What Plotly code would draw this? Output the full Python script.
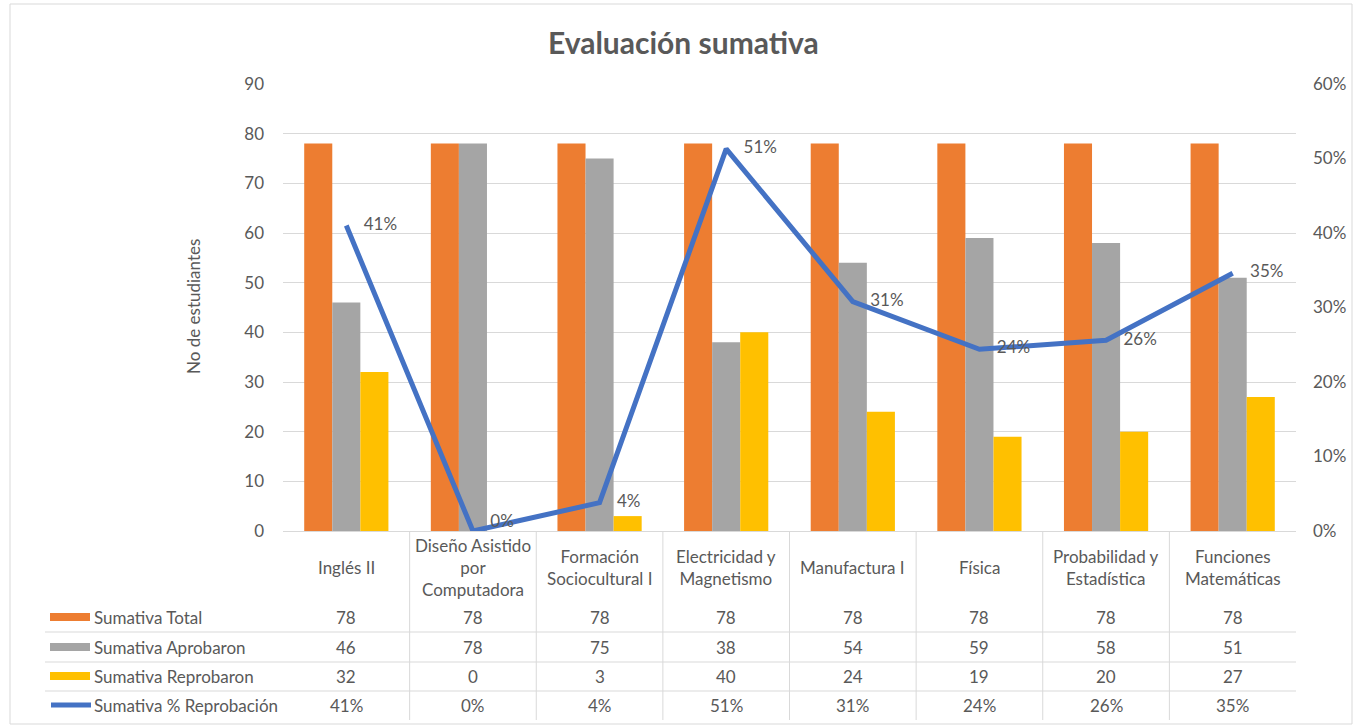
import plotly.graph_objects as go

# ---------------- data ----------------
categories = ["Inglés II", "Diseño Asistido por Computadora", "Formación Sociocultural I",
              "Electricidad y Magnetismo", "Manufactura I", "Física",
              "Probabilidad y Estadística", "Funciones Matemáticas"]
category_labels = ["Inglés II", "Diseño Asistido<br>por<br>Computadora", "Formación<br>Sociocultural I",
                   "Electricidad y<br>Magnetismo", "Manufactura I", "Física",
                   "Probabilidad y<br>Estadística", "Funciones<br>Matemáticas"]
sumativa_total = [78, 78, 78, 78, 78, 78, 78, 78]
sumativa_aprobaron = [46, 78, 75, 38, 54, 59, 58, 51]
sumativa_reprobaron = [32, 0, 3, 40, 24, 19, 20, 27]
pct_reprobacion = [0.41, 0.0, 0.038, 0.513, 0.308, 0.244, 0.256, 0.346]
pct_labels = ["41%", "0%", "4%", "51%", "31%", "24%", "26%", "35%"]
series_names = ["Sumativa Total", "Sumativa Aprobaron", "Sumativa Reprobaron", "Sumativa % Reprobación"]
left_ticks = [0, 10, 20, 30, 40, 50, 60, 70, 80, 90]
right_ticks = [0, 0.1, 0.2, 0.3, 0.4, 0.5, 0.6]

# ---------------- style ----------------
C_ORANGE = "#ED7D31"
C_GRAY = "#A5A5A5"
C_YELLOW = "#FFC000"
C_BLUE = "#4472C4"
TXT = "#595959"
GRID = "#D9D9D9"
FONT = "Lato, 'Open Sans', sans-serif"
FS = 17
FW, FH = 1359, 725
L, R, T, B = 283, 1296, 84, 531
PW, PH = R - L, B - T


def px_x(px):
    return (px - L) / PW


def px_y(py):
    return (B - py) / PH


fig = go.Figure()
for name, vals, col in zip(series_names[:3], [sumativa_total, sumativa_aprobaron, sumativa_reprobaron],
                           [C_ORANGE, C_GRAY, C_YELLOW]):
    fig.add_trace(go.Bar(x=categories, y=vals, name=name, marker=dict(color=col, line=dict(width=0)),
                         hoverinfo="y"))

label_pos = ["top right" if v == 0 else "middle right" for v in pct_reprobacion]
fig.add_trace(go.Scatter(x=categories, y=pct_reprobacion, name=series_names[3], yaxis="y2",
                         mode="lines+text", line=dict(color=C_BLUE, width=5),
                         text=["    " + t for t in pct_labels], textposition=label_pos,
                         textfont=dict(size=FS, color=TXT, family=FONT), cliponaxis=False))

annotations = []
shapes = []

# category labels row
for i, lab in enumerate(category_labels):
    annotations.append(dict(x=i, y=px_y(567), xref="x", yref="paper", text=lab, showarrow=False,
                            xanchor="center", yanchor="middle",
                            font=dict(size=FS, color=TXT, family=FONT)))

# table rows
row_y = [617, 647, 676, 705]
row_vals = [[str(v) for v in sumativa_total], [str(v) for v in sumativa_aprobaron],
            [str(v) for v in sumativa_reprobaron], pct_labels]
for ry, vals, name in zip(row_y, row_vals, series_names):
    for i, v in enumerate(vals):
        annotations.append(dict(x=i, y=px_y(ry), xref="x", yref="paper", text=v, showarrow=False,
                                xanchor="center", yanchor="middle",
                                font=dict(size=FS, color=TXT, family=FONT)))
    annotations.append(dict(x=px_x(92), y=px_y(ry), xref="paper", yref="paper", text=name,
                            showarrow=False, xanchor="left", yanchor="middle",
                            font=dict(size=FS, color=TXT, family=FONT)))

# legend keys
for ry, col in zip(row_y[:3], [C_ORANGE, C_GRAY, C_YELLOW]):
    shapes.append(dict(type="rect", xref="paper", yref="paper", x0=px_x(50), x1=px_x(90),
                       y0=px_y(ry - 4), y1=px_y(ry + 4), fillcolor=col, line=dict(width=0)))
shapes.append(dict(type="line", xref="paper", yref="paper", x0=px_x(51), x1=px_x(91),
                   y0=px_y(row_y[3]), y1=px_y(row_y[3]), line=dict(color=C_BLUE, width=5)))

# horizontal table lines
for hy in [632, 662, 691]:
    shapes.append(dict(type="line", xref="paper", yref="paper", x0=px_x(45), x1=1,
                       y0=px_y(hy), y1=px_y(hy), line=dict(color=GRID, width=1)))
# vertical separators
for i in range(len(categories) - 1):
    shapes.append(dict(type="line", xref="x", yref="paper", x0=i + 0.5, x1=i + 0.5,
                       y0=0, y1=px_y(720), line=dict(color=GRID, width=1)))
# chart border
shapes.append(dict(type="rect", xref="paper", yref="paper", x0=px_x(10), x1=px_x(1352),
                   y0=px_y(4), y1=px_y(724), line=dict(color=GRID, width=1), layer="below"))

# y-axis title
annotations.append(dict(x=px_x(193), y=px_y(307), xref="paper", yref="paper", text="No de estudiantes",
                        textangle=-90, showarrow=False, xanchor="center", yanchor="middle",
                        font=dict(size=FS, color=TXT, family=FONT)))
# chart title
annotations.append(dict(x=px_x(683), y=px_y(42), xref="paper", yref="paper", text="<b>Evaluación sumativa</b>",
                        showarrow=False, xanchor="center", yanchor="middle",
                        font=dict(size=30, color=TXT, family=FONT)))

fig.update_layout(
    width=FW, height=FH,
    margin=dict(l=L, r=FW - R, t=T, b=FH - B, pad=0),
    paper_bgcolor="white", plot_bgcolor="white",
    barmode="group", bargap=0.335, bargroupgap=0,
    showlegend=False,
    font=dict(family=FONT, color=TXT, size=FS),
    xaxis=dict(showticklabels=False, showgrid=False, showline=True, linecolor=GRID, linewidth=1,
               ticks="", zeroline=False),
    yaxis=dict(range=[0, 90], tickvals=left_ticks, showgrid=True, gridcolor=GRID, gridwidth=1,
               zeroline=False, ticks="", ticklabelstandoff=18,
               tickfont=dict(size=FS, color=TXT, family=FONT)),
    yaxis2=dict(range=[0, 0.6], tickvals=right_ticks, tickformat=".0%", overlaying="y", side="right",
                showgrid=False, zeroline=False, ticks="", ticklabelstandoff=16,
                tickfont=dict(size=FS, color=TXT, family=FONT)),
    annotations=annotations, shapes=shapes,
)

fig.write_html("out.html", config={"displayModeBar": False},
               post_script="document.body.style.margin='0';")
